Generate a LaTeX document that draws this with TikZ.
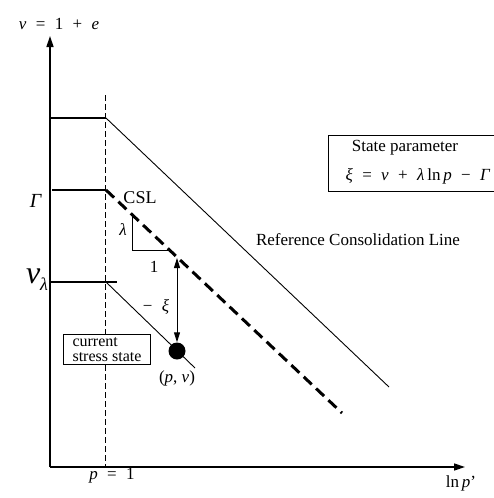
\documentclass[tikz,border=0pt]{standalone}
\usepackage{fontspec}
\setmainfont{Liberation Serif}
\usetikzlibrary{arrows.meta}
\newcommand{\iv}[1]{\textit{#1}}
\newcommand{\gp}{\hspace{0.55em}}
\begin{document}
\begin{tikzpicture}[x=1pt,y=-1pt,
  axis/.style={line width=1.4pt,-{Triangle[length=11pt,width=7pt]}},
  rcl/.style={line width=0.9pt},
  level/.style={line width=1.3pt},
  csl/.style={line width=3pt,dash pattern=on 11pt off 6pt},
  guide/.style={line width=0.6pt,dash pattern=on 6pt off 3pt},
  lbl/.style={inner sep=0pt,font=\fontsize{17}{18}\selectfont},
  boxed/.style={draw,fill=white,line width=1pt,inner sep=1.5pt,align=left,font=\fontsize{16}{15.5}\selectfont}]
\useasboundingbox (0,0) rectangle (494,498);
% axes
\coordinate (O) at (50,467);
\coordinate (ytop) at (50,36);
\coordinate (xend) at (465,467);
\draw[axis] (O) -- (ytop);
\draw[axis] (O) -- (xend);
\node[lbl] (vlab) at (59,24) {\iv{v}\gp=\gp1\gp+\gp\iv{e}};
\node[lbl] (lnp) at (461,483) {ln\,\iv{p}'};
\node[lbl] (p1) at (112,476) {\iv{p}\gp=\gp1};
% guide at p = 1
\coordinate (g1) at (105,95);
\coordinate (g2) at (105,467);
\draw[guide] (g1) -- (g2);
% reference consolidation line
\coordinate (r0) at (50,118);
\coordinate (r1) at (106,118);
\coordinate (r2) at (389,387);
\draw[level] (r0) -- (r1);
\draw[rcl] (r1) -- (r2);
\node[lbl] (rcltext) at (358,240) {Reference Consolidation Line};
% CSL
\coordinate (c0) at (52,190);
\coordinate (c1) at (106,190);
\coordinate (c2) at (342,413);
\draw[level] (c0) -- (c1);
\draw[csl] (c1) -- (c2);
\node[lbl,font=\fontsize{18}{18}\selectfont] (csltext) at (140,198) {CSL};
\node[lbl,font=\fontsize{20}{20}\selectfont] (gam) at (36,201) {\iv{Γ}};
% slope triangle
\coordinate (t1) at (132,214.6);
\coordinate (t2) at (132,250);
\coordinate (t3) at (169,250);
\draw[rcl] (t1) -- (t2) -- (t3);
\node[lbl] (lam) at (123,230) {\iv{λ}};
\node[lbl] (one) at (154,267) {1};
% v_lambda line
\coordinate (v0) at (50,282);
\coordinate (v1) at (117,282);
\coordinate (vk) at (106,282);
\coordinate (v2) at (195,368);
\draw[level] (v0) -- (v1);
\draw[rcl] (vk) -- (v2);
\node[lbl,font=\fontsize{32}{32}\selectfont] (vlam) at (37,280) {\iv{v}\raisebox{-7pt}{\fontsize{18}{18}\selectfont\iv{λ}}};
% current state
\node[circle,fill=black,minimum size=17pt,inner sep=0pt] (P) at (177,351) {};
\coordinate (ctop) at (177,258);
\draw[rcl,{Triangle[length=10pt,width=6pt]}-{Triangle[length=10pt,width=6pt]}] (ctop) -- (P.north);
\node[lbl] (xi) at (156,307) {−\gp\iv{ξ}};
\node[lbl] (pv) at (177,378) {(\iv{p}, \iv{v})};
\node[boxed,anchor=north west,minimum width=87pt,minimum height=30pt] (cur) at (63,334) {current\\stress state};
% state parameter box
\node[draw,line width=1.2pt,anchor=north west,minimum width=175pt,minimum height=56pt,inner sep=0pt] (spbox) at (328,135) {};
\node[lbl] (sptitle) at (405,148) {State parameter};
\node[lbl] (spform) at (418,176) {\iv{ξ}\gp=\gp\iv{v}\gp+\gp\iv{λ}\,ln\,\iv{p}\gp−\gp\iv{Γ}};
\end{tikzpicture}
\end{document}
